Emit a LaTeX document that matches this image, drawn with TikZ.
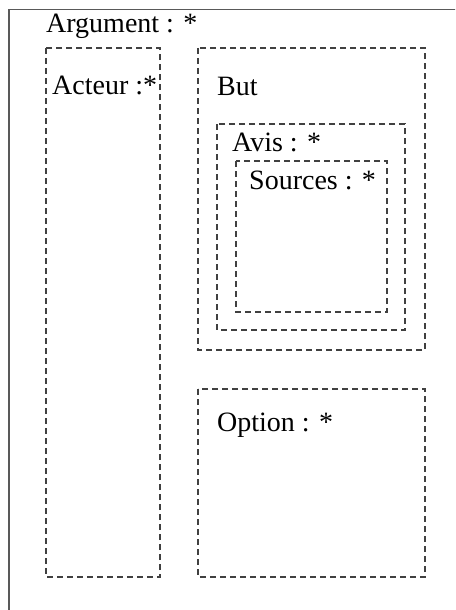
\documentclass[tikz,border=0pt]{standalone}
\usepackage{fontspec}
\setmainfont{Liberation Serif}
\begin{document}
\begin{tikzpicture}[x=1pt,y=-1pt,
  dbox/.style={draw=black!75, line width=1.1pt, dash pattern=on 6pt off 4pt},
  lbl/.style={anchor=base west, inner sep=0pt, font=\fontsize{28}{32}\selectfont}]
\useasboundingbox (0,0) rectangle (455,610);
\begin{scope}
\clip (0,0) rectangle (455,610);
\draw[black!65, line width=1.2pt] (9,9.5) rectangle (480,640);
\end{scope}
\node[lbl] (arg) at (46,33) {Argument : *};
\draw[dbox] (46,48) rectangle (160,577);
\node[lbl] (act) at (52,94) {Acteur :*};
\draw[dbox] (198,48) rectangle (425,350);
\node[lbl] (but) at (217,95) {But};
\draw[dbox] (217,124) rectangle (405,330);
\node[lbl] (avis) at (232,151) {Avis : *};
\draw[dbox] (236,161) rectangle (387,312);
\node[lbl] (src) at (249,189) {Sources : *};
\draw[dbox] (198,389) rectangle (425,577);
\node[lbl] (opt) at (217,431) {Option : *};
\end{tikzpicture}
\end{document}
